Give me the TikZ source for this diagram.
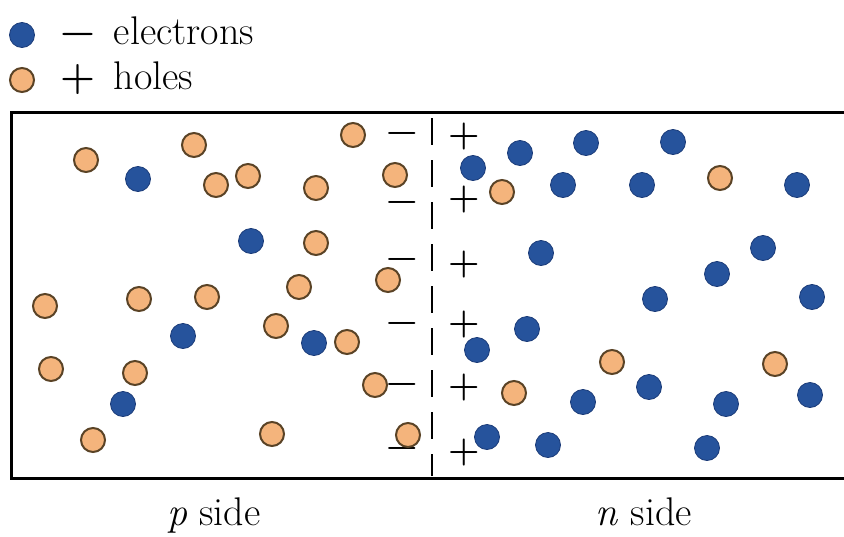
\documentclass[tikz,border=0pt]{standalone}
\usepackage{fontspec}
\usepackage{tikz}
\definecolor{eblue}{HTML}{26539C}
\definecolor{eedge}{HTML}{1B3B78}
\definecolor{hfill}{HTML}{F4B47C}
\definecolor{hedge}{HTML}{5A4326}
\tikzset{
  electron/.style={circle,fill=eblue,draw=eedge,line width=0.8pt,minimum size=25pt,inner sep=0pt},
  hole/.style={circle,fill=hfill,draw=hedge,line width=2pt,minimum size=24pt,inner sep=0pt},
  legtext/.style={anchor=base west,inner sep=0pt,font=\fontsize{40}{48}\selectfont},
  sidetext/.style={anchor=base,inner sep=0pt,font=\fontsize{40}{48}\selectfont},
  charge/.style={inner sep=0pt,font=\fontsize{36}{42}\selectfont\bfseries},
  frame/.style={line width=3pt,black}
}
\begin{document}
\begin{tikzpicture}[x=1pt,y=-1pt]
\useasboundingbox (0,0) rectangle (844,536);
% legend
\node[electron] (le) at (22,35) {};
\node[hole] (lh) at (22,80) {};
\node[legtext] (tle) at (60,44) {\textbf{−}\, electrons};
\node[legtext] (tlh) at (60,89) {\textbf{+}\, holes};
% frame
\coordinate (tl) at (11,112);
\coordinate (bl) at (11,478);
\coordinate (tr) at (850,112);
\coordinate (br) at (850,478);
\begin{scope}
\clip (0,0) rectangle (844,536);
\draw[frame] (tr) -- (tl) -- (bl) -- (br);
\end{scope}
% junction
\coordinate (jt) at (432,118);
\coordinate (jb) at (432,476);
\draw[line width=2.5pt,dash pattern=on 27pt off 15pt] (jt) -- (jb);
% charges
\foreach \y [count=\i] in {137,206,263,327,388,452}
  \node[charge] (m\i) at (402,\y) {−};
\foreach \y [count=\i] in {137,200,265,325,388,453}
  \node[charge] (p\i) at (464,\y) {+};
% holes
\foreach \x/\y [count=\i] in {86/160,194/145,216/185,248/176,316/188,316/243,299/287,207/297,139/299,45/306,276/326,51/369,135/373,93/440,272/434,
  353/135,395/175,388/280,347/342,375/385,408/435,
  502/192,720/178,612/362,775/364,514/393}
  \node[hole] (h\i) at (\x,\y) {};
% electrons
\foreach \x/\y [count=\i] in {138/179,251/241,183/336,314/343,123/404,
  473/168,520/153,586/143,673/142,563/185,642/185,797/185,541/253,763/248,717/274,655/299,812/297,527/329,477/350,649/387,583/402,726/404,810/395,548/445,707/448,487/437}
  \node[electron] (e\i) at (\x,\y) {};
% side labels
\node[sidetext] (ps) at (214,525) {\textit{p} side};
\node[sidetext] (ns) at (644,525) {\textit{n} side};
\end{tikzpicture}
\end{document}
